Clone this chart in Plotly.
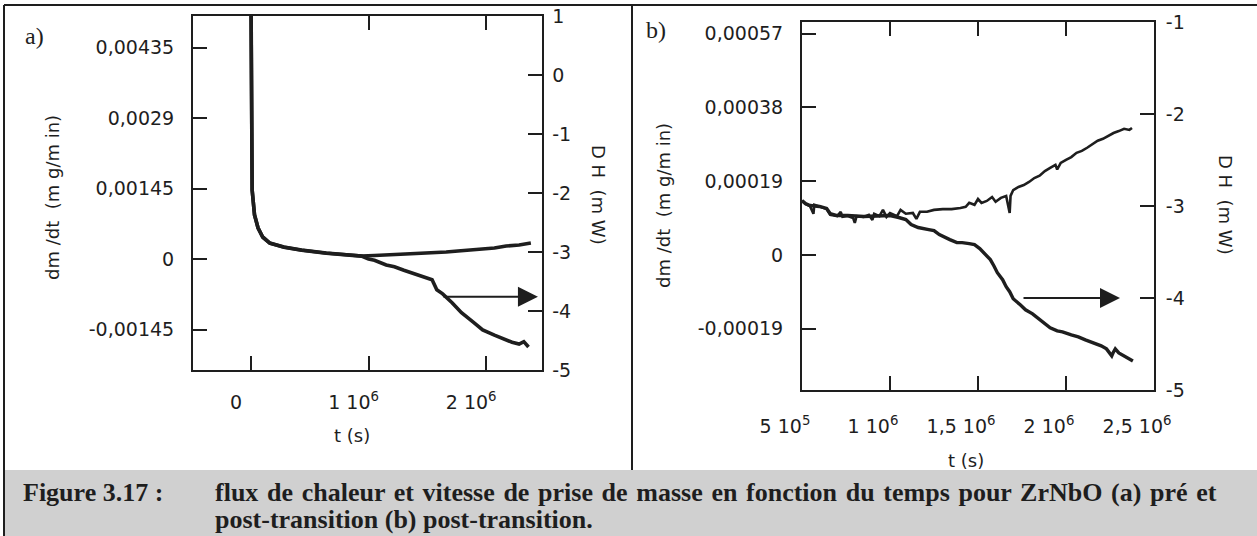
import plotly.graph_objects as go

W, H = 1257, 536
INK = "#1e1e1e"

# ---------------- panel (a) : pre- and post-transition ----------------
t_dm_a = [0, 0.005e6, 0.01e6, 0.03e6, 0.06e6, 0.10e6, 0.16e6, 0.28e6, 0.43e6, 0.64e6,
          0.84e6, 0.94e6, 1.05e6, 1.15e6, 1.25e6, 1.35e6, 1.46e6, 1.56e6, 1.66e6, 1.76e6,
          1.87e6, 1.97e6, 2.07e6, 2.17e6, 2.28e6, 2.38e6]
dm_a = [0.0056, 0.00327, 0.00142, 0.000905, 0.000638, 0.000453, 0.000329, 0.000247, 0.000185,
        0.000123, 0.000082, 0.000062, 0.000072, 0.000082, 0.000092, 0.000103, 0.000113,
        0.000123, 0.000144, 0.000165, 0.000185, 0.000206, 0.000226, 0.000267, 0.000288, 0.000329]

t_dh_a = [0, 0.005e6, 0.01e6, 0.03e6, 0.06e6, 0.10e6, 0.16e6, 0.28e6, 0.43e6, 0.64e6,
          0.84e6, 0.94e6, 1.00e6, 1.05e6, 1.15e6, 1.22e6, 1.30e6, 1.38e6, 1.46e6, 1.54e6,
          1.58e6, 1.63e6, 1.71e6, 1.79e6, 1.89e6, 1.97e6, 2.07e6, 2.17e6, 2.22e6, 2.28e6,
          2.32e6, 2.36e6]
dh_a = [1.2, -0.42, -1.95, -2.37, -2.59, -2.75, -2.85, -2.92, -2.97, -3.02, -3.05, -3.07,
        -3.12, -3.14, -3.22, -3.25, -3.31, -3.36, -3.41, -3.47, -3.64, -3.71, -3.86, -4.03,
        -4.19, -4.32, -4.41, -4.49, -4.53, -4.56, -4.52, -4.61]

# ---------------- panel (b) : post-transition ----------------
t_dm_b = [0.50e6, 0.52e6, 0.545e6, 0.565e6, 0.57e6, 0.60e6, 0.63e6, 0.64e6, 0.66e6, 0.70e6,
          0.72e6, 0.73e6, 0.76e6, 0.79e6, 0.80e6, 0.81e6, 0.85e6, 0.88e6, 0.90e6, 0.91e6,
          0.94e6, 0.96e6, 0.98e6, 1.00e6, 1.04e6, 1.06e6, 1.09e6, 1.13e6, 1.15e6, 1.17e6,
          1.21e6, 1.25e6, 1.30e6, 1.35e6, 1.40e6, 1.43e6, 1.45e6, 1.48e6, 1.50e6, 1.52e6,
          1.55e6, 1.58e6, 1.60e6, 1.63e6, 1.66e6, 1.68e6, 1.685e6, 1.70e6, 1.73e6, 1.76e6,
          1.79e6, 1.82e6, 1.85e6, 1.88e6, 1.91e6, 1.94e6, 1.95e6, 1.97e6, 2.00e6, 2.03e6,
          2.06e6, 2.09e6, 2.12e6, 2.15e6, 2.18e6, 2.21e6, 2.24e6, 2.27e6, 2.30e6, 2.33e6,
          2.36e6, 2.375e6]
dm_b = [0.000139, 0.000131, 0.000126, 0.000106, 0.000129, 0.000124, 0.000121, 0.000118,
        0.000103, 0.000100, 0.000111, 0.0000979, 0.000100, 0.0000953, 0.0000824, 0.000100,
        0.0000979, 0.000103, 0.0000902, 0.000106, 0.000100, 0.000116, 0.0000979, 0.000108,
        0.000100, 0.000116, 0.000106, 0.000108, 0.0000927, 0.000111, 0.000111, 0.000116,
        0.000118, 0.000118, 0.000121, 0.000124, 0.000134, 0.000129, 0.000144, 0.000134,
        0.000139, 0.000149, 0.000137, 0.000147, 0.000152, 0.000108, 0.000152, 0.000167,
        0.000175, 0.000180, 0.000188, 0.000198, 0.000204, 0.000216, 0.000224, 0.000232,
        0.000220, 0.000237, 0.000245, 0.000252, 0.000263, 0.000268, 0.000276, 0.000286,
        0.000294, 0.000299, 0.000307, 0.000314, 0.000319, 0.000325, 0.000322, 0.000327]

t_dh_b = [0.50e6, 0.52e6, 0.545e6, 0.60e6, 0.64e6, 0.66e6, 0.70e6, 0.76e6, 0.85e6, 0.94e6,
          1.00e6, 1.05e6, 1.09e6, 1.12e6, 1.16e6, 1.22e6, 1.25e6, 1.28e6, 1.31e6, 1.34e6,
          1.38e6, 1.41e6, 1.45e6, 1.48e6, 1.51e6, 1.55e6, 1.57e6, 1.59e6, 1.61e6, 1.64e6,
          1.66e6, 1.68e6, 1.70e6, 1.74e6, 1.77e6, 1.81e6, 1.84e6, 1.88e6, 1.91e6, 1.95e6,
          1.98e6, 2.03e6, 2.07e6, 2.11e6, 2.16e6, 2.20e6, 2.23e6, 2.26e6, 2.27e6, 2.28e6,
          2.30e6, 2.33e6, 2.36e6, 2.38e6]
dh_b = [-2.940, -2.973, -2.995, -3.005, -3.027, -3.082, -3.104, -3.104, -3.114, -3.104,
        -3.104, -3.125, -3.147, -3.202, -3.234, -3.256, -3.267, -3.311, -3.343, -3.365,
        -3.398, -3.398, -3.409, -3.420, -3.463, -3.540, -3.583, -3.649, -3.725, -3.801,
        -3.877, -3.932, -4.008, -4.074, -4.128, -4.172, -4.215, -4.281, -4.324, -4.357,
        -4.368, -4.401, -4.422, -4.455, -4.488, -4.520, -4.553, -4.629, -4.586, -4.553,
        -4.597, -4.629, -4.662, -4.684]

# tick values / labels
xt_a = [0, 1e6, 2e6]
xt_a_txt = ["0", "1 10<sup>6</sup>", "2 10<sup>6</sup>"]
yt_a = [-0.00145, 0, 0.00145, 0.0029, 0.00435]
yt_a_txt = ["-0,00145", "0", "0,00145", "0,0029", "0,00435"]
y2t_a = [-5, -4, -3, -2, -1, 0, 1]

xt_b = [5e5, 1e6, 1.5e6, 2e6, 2.5e6]
xt_b_txt = ["5 10<sup>5</sup>", "1 10<sup>6</sup>", "1,5 10<sup>6</sup>", "2 10<sup>6</sup>", "2,5 10<sup>6</sup>"]
yt_b = [-0.00019, 0, 0.00019, 0.00038, 0.00057]
yt_b_txt = ["-0,00019", "0", "0,00019", "0,00038", "0,00057"]
y2t_b = [-5, -4, -3, -2, -1]

caption_label = "Figure 3.17 :"
caption_lines = ["flux de chaleur et vitesse de prise de masse en fonction du temps pour ZrNbO (a) pré et",
                 "post-transition (b) post-transition."]

TICKFONT = dict(family="DejaVu Sans", size=19, color=INK)


def px_x(p):
    return p / W


def px_y(p):
    return 1 - p / H


fig = go.Figure()
line_a = dict(color=INK, width=3.6)
fig.add_trace(go.Scatter(x=t_dm_a, y=dm_a, mode="lines", line=line_a, xaxis="x", yaxis="y"))
fig.add_trace(go.Scatter(x=t_dh_a, y=dh_a, mode="lines", line=line_a, xaxis="x", yaxis="y2"))
fig.add_trace(go.Scatter(x=t_dm_b, y=dm_b, mode="lines", line=dict(color=INK, width=2.6),
                         xaxis="x2", yaxis="y3"))
fig.add_trace(go.Scatter(x=t_dh_b, y=dh_b, mode="lines", line=dict(color=INK, width=3.4),
                         xaxis="x2", yaxis="y4"))

common = dict(showline=True, linecolor=INK, linewidth=2, ticks="inside", ticklen=14,
              tickwidth=2, tickcolor=INK, showgrid=False, zeroline=False, tickfont=TICKFONT,
              tickmode="array", automargin=False)

fig.update_layout(
    width=W, height=H, margin=dict(l=0, r=0, t=0, b=0, autoexpand=False),
    paper_bgcolor="white", plot_bgcolor="white", showlegend=False,
    xaxis=dict(domain=[px_x(193), px_x(542.4)], range=[-0.493e6, 2.478e6], anchor="y",
               tickvals=xt_a, ticktext=xt_a_txt, mirror="ticks", ticklabelshift=-15,
               ticklabelstandoff=14, **common),
    yaxis=dict(domain=[px_y(370), px_y(16)], range=[-0.002283, 0.004998], anchor="x",
               tickvals=yt_a, ticktext=yt_a_txt, ticklabelstandoff=13, **common),
    yaxis2=dict(range=[-5, 1], overlaying="y", side="right", anchor="x",
                tickvals=y2t_a, ticktext=[str(v) for v in y2t_a], ticklabelstandoff=4, **common),
    xaxis2=dict(domain=[px_x(802), px_x(1154)], range=[0.5e6, 2.5e6], anchor="y3",
                tickvals=xt_b, ticktext=xt_b_txt, mirror="ticks", ticklabelshift=-17,
                ticklabelstandoff=18, **common),
    yaxis3=dict(domain=[px_y(390), px_y(22)], range=[-0.000348, 0.000600], anchor="x2",
                tickvals=yt_b, ticktext=yt_b_txt, ticklabelstandoff=13, **common),
    yaxis4=dict(range=[-5, -1], overlaying="y3", side="right", anchor="x2",
                tickvals=y2t_b, ticktext=[str(v) for v in y2t_b], ticklabelstandoff=6, **common),
)

# page frame, panel divider and caption band
fig.add_shape(type="rect", xref="paper", yref="paper", x0=px_x(3), x1=1, y0=0, y1=px_y(470),
              fillcolor="#d0d0d0", line=dict(width=0), layer="below")
fig.add_shape(type="line", xref="paper", yref="paper", x0=px_x(4), x1=1, y0=px_y(5), y1=px_y(5),
              line=dict(color=INK, width=2))
fig.add_shape(type="line", xref="paper", yref="paper", x0=px_x(4), x1=px_x(4), y0=0, y1=px_y(5),
              line=dict(color=INK, width=2))
fig.add_shape(type="line", xref="paper", yref="paper", x0=px_x(632), x1=px_x(632),
              y0=px_y(470), y1=px_y(5), line=dict(color=INK, width=2))

ann = []
# panel letters
ann.append(dict(text="a)", x=px_x(34), y=px_y(36), font=dict(family="Liberation Serif", size=24, color=INK)))
ann.append(dict(text="b)", x=px_x(656), y=px_y(30), font=dict(family="Liberation Serif", size=24, color=INK)))
# axis titles
TF = dict(family="DejaVu Sans", size=18, color=INK)
ann.append(dict(text="dm /dt  (m g/m in)", x=px_x(52), y=px_y(198), textangle=-90, font=TF))
ann.append(dict(text="D H  (m W)", x=px_x(599), y=px_y(195), textangle=90, font=TF))
ann.append(dict(text="t (s)", x=px_x(352), y=px_y(435), font=TF))
ann.append(dict(text="dm /dt  (m g/m in)", x=px_x(664), y=px_y(206), textangle=-90, font=TF))
ann.append(dict(text="D H  (m W)", x=px_x(1226), y=px_y(205), textangle=90, font=TF))
ann.append(dict(text="t (s)", x=px_x(966), y=px_y(460), font=TF))
for a in ann:
    a.update(xref="paper", yref="paper", showarrow=False, xanchor="center", yanchor="middle")

# caption (justified first line: widen the word gaps with a hair space)
CF = dict(family="Liberation Serif", size=26, color=INK)
line1 = caption_lines[0].replace(" ", " \u200a")
cap = dict(xref="paper", yref="paper", showarrow=False, xanchor="left", yanchor="middle", font=CF)
ann.append(dict(text="<b>" + caption_label + "</b>", x=px_x(21), y=px_y(492), **cap))
ann.append(dict(text="<b>" + line1 + "</b>", x=px_x(213), y=px_y(492), **cap))
ann.append(dict(text="<b>" + caption_lines[1] + "</b>", x=px_x(213), y=px_y(519), **cap))

# arrows pointing each decreasing curve to its right-hand axis
ann.append(dict(x=2.44e6, y=-3.76, ax=1.624e6, ay=-3.76, xref="x", yref="y2", axref="x", ayref="y2",
                showarrow=True, arrowhead=2, arrowsize=2, arrowwidth=2, arrowcolor=INK, text=""))
ann.append(dict(x=2.307e6, y=-4.0, ax=1.75e6, ay=-4.0, xref="x2", yref="y4", axref="x2", ayref="y4",
                showarrow=True, arrowhead=2, arrowsize=2, arrowwidth=2, arrowcolor=INK, text=""))
fig.update_layout(annotations=ann)

fig.write_html("out.html")
